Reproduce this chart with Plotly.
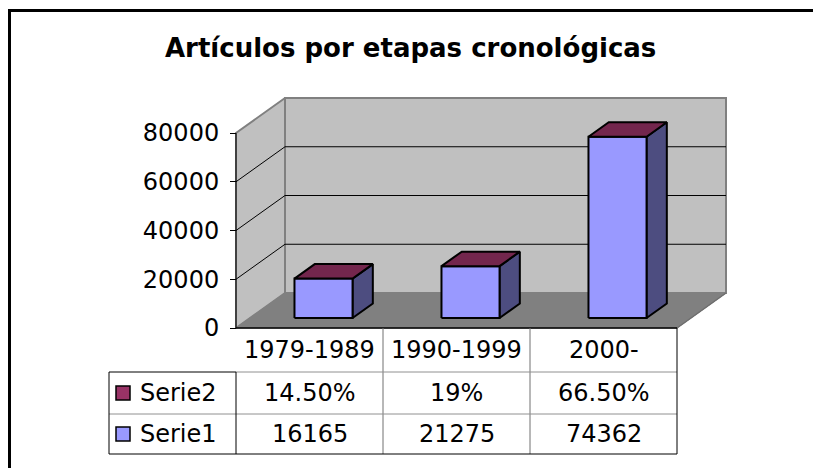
import plotly.graph_objects as go

# ---------------- data ----------------
categories = ["1979-1989", "1990-1999", "2000-"]
serie1 = [16165, 21275, 74362]
serie2 = [14.5, 19, 66.5]            # percent
serie2_labels = ["14.50%", "19%", "66.50%"]
serie1_labels = ["16165", "21275", "74362"]
series_names = ["Serie2", "Serie1"]
y_ticks = [0, 20000, 40000, 60000, 80000]
title = "Artículos por etapas cronológicas"

# ---------------- layout geometry (pixels) ----------------
W, H = 813, 468
X0_PX = 236          # front y-axis position
CAT_PX = 147         # width of one category
Y0_PX = 328          # value 0 at front plane
PX_PER_V = 195 / 80000
DEPTH_DX_PX, DEPTH_DY_PX = 49, 35

def px2x(px):
    return (px - X0_PX) / CAT_PX

def px2y(py):
    return (Y0_PX - py) / PX_PER_V

DX = DEPTH_DX_PX / CAT_PX
DY = DEPTH_DY_PX / PX_PER_V
YMAX = 80000
N = len(categories)

FONT = "DejaVu Sans"
WALL = "#C0C0C0"
FLOOR = "#808080"
EDGE = "#808080"
FRONT = "#9999FF"
SIDE = "#4D4D80"
TOP = "#73264D"
S2 = "#993366"

fig = go.Figure()

def poly(xs, ys, fill, line_color, lw):
    fig.add_trace(go.Scatter(
        x=list(xs) + [xs[0]], y=list(ys) + [ys[0]], mode="lines",
        fill="toself", fillcolor=fill,
        line=dict(color=line_color, width=lw),
        hoverinfo="skip", showlegend=False))

def line(xs, ys, color, lw):
    fig.add_trace(go.Scatter(x=xs, y=ys, mode="lines",
                             line=dict(color=color, width=lw),
                             hoverinfo="skip", showlegend=False))

# back wall
poly([DX, N + DX, N + DX, DX], [DY, DY, YMAX + DY, YMAX + DY], WALL, EDGE, 2)
# left wall
poly([0, DX, DX, 0], [0, DY, YMAX + DY, YMAX], WALL, EDGE, 2)
# floor
poly([0, N, N + DX, DX], [0, 0, DY, DY], FLOOR, FLOOR, 1)
line([N, N + DX], [0, DY], "#6E6E6E", 1.5)
line([DX, DX], [DY, YMAX + DY], EDGE, 2)

# gridlines
for v in y_ticks[1:-1]:
    line([0, DX, N + DX], [v, v + DY, v + DY], "black", 1)

# front axes
line([0, 0], [0, YMAX], "black", 1)
line([0, N], [0, 0], "black", 1.5)

# bars
d0, d1 = 0.286, 0.70
bw = 0.395
for i, (v1, v2) in enumerate(zip(serie1, serie2)):
    xc = i + 0.5
    ox0, oy0 = d0 * DX, d0 * DY
    ox1, oy1 = d1 * DX, d1 * DY
    xl, xr = xc - bw / 2, xc + bw / 2
    top = v1 + v2 / 100.0
    # side
    poly([xr + ox0, xr + ox1, xr + ox1, xr + ox0],
         [oy0, oy1, oy1 + top, oy0 + top], SIDE, "black", 2)
    # front
    poly([xl + ox0, xr + ox0, xr + ox0, xl + ox0],
         [oy0, oy0, oy0 + v1, oy0 + v1], FRONT, "black", 2)
    # top (Serie2 stacked, negligible height)
    poly([xl + ox0, xr + ox0, xr + ox1, xl + ox1],
         [oy0 + top, oy0 + top, oy1 + top, oy1 + top], TOP, "black", 2)

# ---------------- data table ----------------
row_tops = [328, 372, 414, 454]
TL_PX = 109
shapes = []

def seg(x0, y0, x1, y1, color, w=1):
    shapes.append(dict(type="line", xref="x", yref="y", x0=x0, y0=y0, x1=x1, y1=y1,
                       line=dict(color=color, width=w), layer="above"))

xl_tab = px2x(TL_PX)
y_r = [px2y(p) for p in row_tops]
# inner lines
for k in range(1, N):
    seg(k, y_r[0], k, y_r[3], "#707070")
seg(0, y_r[1], N, y_r[1], "#909090")
seg(xl_tab, y_r[2], N, y_r[2], "#909090")
# outer borders
seg(xl_tab, y_r[1], 0, y_r[1], "black")
seg(0, y_r[1], 0, y_r[3], "black")
seg(N, y_r[0], N, y_r[3], "black")
seg(xl_tab, y_r[3], N, y_r[3], "black")
seg(xl_tab, y_r[1], xl_tab, y_r[3], "black")

annotations = []

def txt(x, y, s, size=24, anchor="center"):
    annotations.append(dict(x=x, y=y, xref="x", yref="y", text=s, showarrow=False,
                            xanchor=anchor, yanchor="middle",
                            font=dict(family=FONT, size=size, color="black")))

for i, c in enumerate(categories):
    txt(i + 0.5, (y_r[0] + y_r[1]) / 2, c)
    txt(i + 0.5, (y_r[1] + y_r[2]) / 2, serie2_labels[i])
    txt(i + 0.5, (y_r[2] + y_r[3]) / 2, serie1_labels[i])

for name, col, r in [(series_names[0], S2, 1), (series_names[1], FRONT, 2)]:
    yc = (y_r[r] + y_r[r + 1]) / 2
    sq = 7
    shapes.append(dict(type="rect", xref="x", yref="y",
                       x0=px2x(116), x1=px2x(116 + 2 * sq),
                       y0=yc - sq / PX_PER_V, y1=yc + sq / PX_PER_V,
                       fillcolor=col, line=dict(color="black", width=1.5)))
    txt(px2x(138), yc, name, anchor="left")

# outer chart border
shapes.append(dict(type="rect", xref="paper", yref="paper",
                   x0=9.5 / W, x1=1.02, y0=-0.02, y1=1 - 10.5 / H,
                   line=dict(color="black", width=3), fillcolor="rgba(0,0,0,0)"))

annotations.append(dict(x=0.505, y=1 - 48 / H, xref="paper", yref="paper",
                        text="<b>" + title + "</b>", showarrow=False,
                        xanchor="center", yanchor="middle",
                        font=dict(family=FONT, size=26, color="black")))

fig.update_layout(
    width=W, height=H,
    margin=dict(l=0, r=0, t=0, b=0),
    paper_bgcolor="white", plot_bgcolor="white",
    showlegend=False,
    shapes=shapes, annotations=annotations,
    xaxis=dict(range=[px2x(0), px2x(W)], visible=False, fixedrange=True),
    yaxis=dict(range=[px2y(H), px2y(0)], anchor="free", position=X0_PX / W,
               tickvals=y_ticks, ticktext=[str(t) for t in y_ticks],
               ticks="outside", ticklen=6, tickcolor="black", tickwidth=1,
               ticklabelstandoff=6,
               tickfont=dict(family=FONT, size=24, color="black"),
               showgrid=False, zeroline=False, showline=False, fixedrange=True),
)

fig.write_html("out.html", config={"displayModeBar": False},
               post_script="document.body.style.margin='0';document.body.style.overflow='hidden';")
